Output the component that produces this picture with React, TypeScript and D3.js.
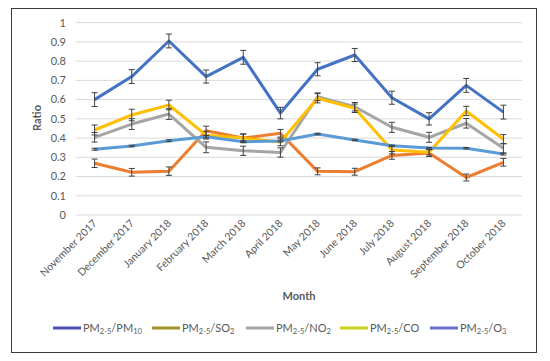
import React from 'react';
import { scaleBand, scaleLinear, line } from 'd3';

const months = [
  'November 2017', 'December 2017', 'January 2018', 'February 2018', 'March 2018', 'April 2018',
  'May 2018', 'June 2018', 'July 2018', 'August 2018', 'September 2018', 'October 2018',
];

const pm10 = [0.60, 0.72, 0.905, 0.72, 0.82, 0.53, 0.758, 0.832, 0.61, 0.50, 0.674, 0.535];
const so2 = [0.269, 0.222, 0.228, 0.438, 0.40, 0.425, 0.227, 0.225, 0.31, 0.322, 0.195, 0.274];
const no2 = [0.404, 0.473, 0.525, 0.352, 0.334, 0.325, 0.615, 0.563, 0.456, 0.404, 0.477, 0.347];
const co = [0.442, 0.52, 0.572, 0.415, 0.40, 0.38, 0.607, 0.555, 0.338, 0.326, 0.541, 0.394];
const o3 = [0.342, 0.359, 0.386, 0.407, 0.381, 0.385, 0.421, 0.39, 0.36, 0.348, 0.347, 0.317];

const errPm10 = [0.036, 0.036, 0.036, 0.034, 0.036, 0.03, 0.034, 0.034, 0.034, 0.032, 0.036, 0.036];
const errSo2 = [0.022, 0.02, 0.022, 0.024, 0.022, 0.02, 0.018, 0.018, 0.02, 0.018, 0.018, 0.02];
const errNo2 = [0.025, 0.028, 0.028, 0.028, 0.024, 0.024, 0.02, 0.022, 0.026, 0.026, 0.025, 0.025];
const errCo = [0.026, 0.03, 0.025, 0.02, 0.02, 0.02, 0.024, 0.022, 0.02, 0.014, 0.024, 0.024];
const errO3 = [0.005, 0.004, 0.005, 0.006, 0.005, 0.005, 0.004, 0.004, 0.004, 0.004, 0.004, 0.005];

const yTicks = [0, 0.1, 0.2, 0.3, 0.4, 0.5, 0.6, 0.7, 0.8, 0.9, 1];

const series = [
  { name: 'PM10', values: pm10, err: errPm10, color: '#4472C4', legend: '#4b4fb5', sub1: '2-5', tail: '/PM', sub2: '10' },
  { name: 'SO2', values: so2, err: errSo2, color: '#ED7D31', legend: '#9b9125', sub1: '2-5', tail: '/SO', sub2: '2' },
  { name: 'NO2', values: no2, err: errNo2, color: '#A5A5A5', legend: '#a5a5a5', sub1: '2-5', tail: '/NO', sub2: '2' },
  { name: 'CO', values: co, err: errCo, color: '#FFC000', legend: '#c9d21c', sub1: '2-5', tail: '/CO', sub2: '' },
  { name: 'O3', values: o3, err: errO3, color: '#5B9BD5', legend: '#6670cc', sub1: '2-5', tail: '/O', sub2: '3' },
];

const legendX = [53, 152, 246, 340, 430];

const font = 'Lato, "Open Sans", sans-serif';

export default function App() {
  const x = scaleBand<string>().domain(months).range([76, 522]);
  const y = scaleLinear().domain([0, 1]).range([215, 22.7]);
  const cx = (m: string) => (x(m) ?? 0) + x.bandwidth() / 2;

  const gen = line<number>()
    .x((_, i) => cx(months[i]))
    .y((d) => y(d));

  return (
    <svg width={550} height={361} style={{ position: 'absolute', left: 0, top: 0, background: '#fff' }}>
      <rect x={11.5} y={8.5} width={525} height={344} fill="#fff" stroke="#3a3a3a" strokeWidth={1} />
      {yTicks.map((t) => (
        <g key={t}>
          <line x1={76} x2={522} y1={y(t)} y2={y(t)} stroke="#d9d9d9" strokeWidth={1} />
          <text x={66} y={y(t)} dy="0.35em" textAnchor="end" fontFamily={font} fontSize={11} fill="#595959">
            {t}
          </text>
        </g>
      ))}
      <text
        transform={`translate(41,118) rotate(-90)`}
        textAnchor="middle"
        fontFamily={font}
        fontSize={11}
        fontWeight="bold"
        fill="#595959"
      >
        Ratio
      </text>
      {months.map((m) => (
        <text
          key={m}
          transform={`translate(${cx(m) + 3},${224}) rotate(-45)`}
          textAnchor="end"
          fontFamily={font}
          fontSize={10.5}
          fill="#595959"
        >
          {m}
        </text>
      ))}
      <text x={299} y={300} textAnchor="middle" fontFamily={font} fontSize={11} fontWeight="bold" fill="#595959">
        Month
      </text>
      {series.map((s) => (
        <path key={s.name} d={gen(s.values) ?? ''} fill="none" stroke={s.color} strokeWidth={3} strokeLinejoin="round" />
      ))}
      {series.map((s) =>
        s.values.map((v, i) => {
          const px = cx(months[i]);
          const y1 = y(v + s.err[i]);
          const y2 = y(v - s.err[i]);
          return (
            <g key={s.name + i} stroke="#404040" strokeWidth={1}>
              <line x1={px} x2={px} y1={y1} y2={y2} />
              <line x1={px - 3} x2={px + 3} y1={y1} y2={y1} />
              <line x1={px - 3} x2={px + 3} y1={y2} y2={y2} />
            </g>
          );
        })
      )}
      {series.map((s, i) => (
        <g key={'lg' + s.name}>
          <line x1={legendX[i]} x2={legendX[i] + 28} y1={328} y2={328} stroke={s.legend} strokeWidth={3} />
          <text x={legendX[i] + 30} y={332} fontFamily={font} fontSize={11} fill="#595959">
            PM
            <tspan fontSize={7.5} dy={2}>{s.sub1}</tspan>
            <tspan dy={-2}>{s.tail}</tspan>
            {s.sub2 && (
              <tspan fontSize={7.5} dy={2}>
                {s.sub2}
              </tspan>
            )}
          </text>
        </g>
      ))}
    </svg>
  );
}
